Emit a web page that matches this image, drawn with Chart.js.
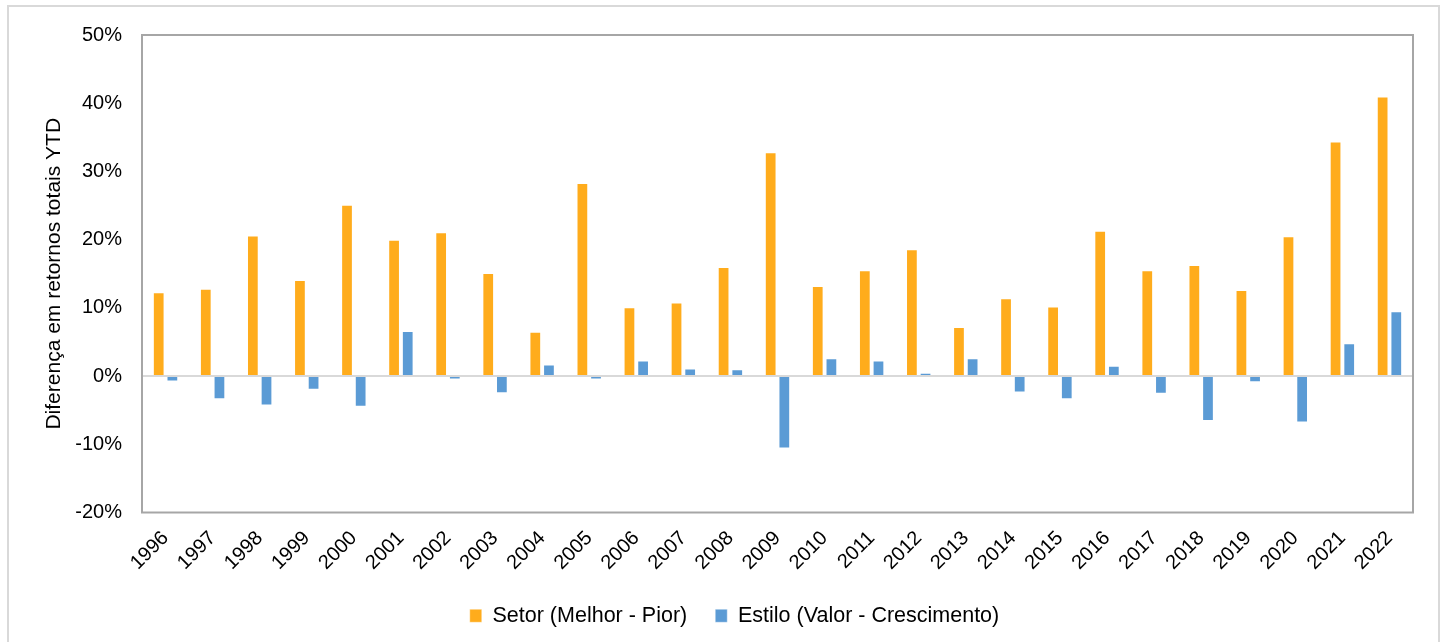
<!DOCTYPE html>
<html>
<head>
<meta charset="utf-8">
<script src="https://cdn.jsdelivr.net/npm/chart.js@4"></script>
<style>
  body { margin: 0; background: #fff; }
  #frame { position: absolute; left: 7px; top: 5px; width: 1433px; height: 660px; border: 2px solid #d9d9d9; box-sizing: border-box; }
  #wrap { position: absolute; left: 0; top: 0; width: 1443px; height: 642px; }
</style>
</head>
<body>
<div id="frame"></div>
<div id="wrap"><canvas id="Chart1" width="1443" height="642"></canvas></div>
<script>
// years on the x axis
const years = ['1996','1997','1998','1999','2000','2001','2002','2003','2004','2005','2006','2007','2008','2009',
  '2010','2011','2012','2013','2014','2015','2016','2017','2018','2019','2020','2021','2022'];

// Setor (Melhor - Pior), in %
const setor = [12.3, 12.8, 20.6, 14.1, 25.1, 20.0, 21.1, 15.1, 6.5, 28.3, 10.1, 10.8, 16.0, 32.8,
  13.2, 15.5, 18.6, 7.2, 11.4, 10.2, 21.3, 15.5, 16.3, 12.6, 20.5, 34.4, 41.0];

// Estilo (Valor - Crescimento), in %
const estilo = [-0.8, -3.4, -4.3, -2.0, -4.5, 6.6, -0.5, -2.5, 1.7, -0.5, 2.3, 1.1, 1.0, -10.6,
  2.6, 2.3, 0.5, 2.6, -2.4, -3.4, 1.5, -2.6, -6.6, -0.9, -6.8, 4.8, 9.5];

const yTicks = [-20, -10, 0, 10, 20, 30, 40, 50];

const family = '"Liberation Sans", Arial, sans-serif';

// box round the plot area, like the excel one
const plotBox = {
  id: 'plotBox',
  afterDraw(chart) {
    const a = chart.chartArea;
    const ctx = chart.ctx;
    ctx.save();
    ctx.strokeStyle = '#a6a6a6';
    ctx.lineWidth = 2;
    ctx.strokeRect(a.left, a.top, a.right - a.left, a.bottom - a.top);
    ctx.restore();
  }
};

// put the legend where the original has it, without it eating plot height
const legendShift = {
  id: 'legendShift',
  afterLayout(chart) {
    const lg = chart.legend;
    lg.top = 577;
    lg.bottom = 642;
    lg.left += 7;
    lg.right += 7;
  }
};

const ctx = document.getElementById('Chart1').getContext('2d');
const myChart = new Chart(ctx, {
  type: 'bar',
  data: {
    labels: years,
    datasets: [
      {
        label: 'Setor (Melhor - Pior)',
        data: setor,
        backgroundColor: '#ffac1c',
        borderColor: 'rgba(255,255,255,0.4)',
        borderWidth: 1,
        categoryPercentage: 0.58,
        barPercentage: 0.86
      },
      {
        label: 'Estilo (Valor - Crescimento)',
        data: estilo,
        backgroundColor: '#5b9bd5',
        borderColor: 'rgba(255,255,255,0.4)',
        borderWidth: 1,
        categoryPercentage: 0.58,
        barPercentage: 0.86
      }
    ]
  },
  options: {
    responsive: false,
    animation: false,
    devicePixelRatio: 1,
    layout: { padding: { left: 42, right: 30, top: 35, bottom: 0 } },
    plugins: {
      legend: {
        position: 'bottom',
        maxHeight: 60,
        labels: {
          color: '#000',
          font: { family: family, size: 21.5 },
          boxWidth: 12,
          boxHeight: 13,
          padding: 28
        }
      },
      tooltip: { enabled: false }
    },
    scales: {
      x: {
        grid: { display: false },
        border: { display: false },
        ticks: {
          color: '#000',
          font: { family: family, size: 20 },
          maxRotation: 45,
          minRotation: 45,
          autoSkip: false,
          padding: 6
        },
        afterFit: function(scale) { scale.height = 70; }
      },
      y: {
        min: -20,
        max: 50,
        afterBuildTicks: function(scale) {
          scale.ticks = yTicks.map(v => ({ value: v }));
        },
        border: { display: false },
        grid: {
          drawTicks: false,
          color: function(c) { return c.tick && c.tick.value === 0 ? '#d9d9d9' : 'rgba(0,0,0,0)'; },
          lineWidth: 2
        },
        ticks: {
          color: '#000',
          font: { family: family, size: 20 },
          padding: 20,
          callback: function(value) { return value + '%'; }
        },
        title: {
          display: true,
          text: 'Diferença em retornos totais YTD',
          color: '#000',
          font: { family: family, size: 21 },
          padding: 0
        },
        afterFit: function(scale) { scale.width = 100; }
      }
    }
  },
  plugins: [plotBox, legendShift]
});
</script>
</body>
</html>
